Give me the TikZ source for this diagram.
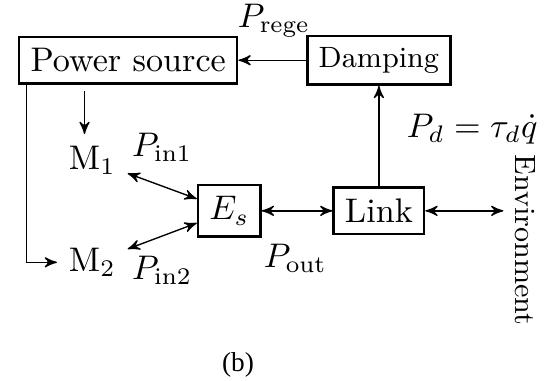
\documentclass[tikz,border=0pt]{standalone}
\usepackage{fontspec}
\newfontfamily\capfont{Liberation Serif}
\usetikzlibrary{arrows,calc}
\tikzstyle{block} = [draw,rectangle,line width=0.7pt]
\tikzstyle{arrow} = [->,>=stealth',thin]
\tikzstyle{darrow} = [<->,>=stealth',thin]
\newcommand{\smallfs}{\fontsize{8.6}{10}\selectfont}

\begin{document}
\begin{tikzpicture}
	\useasboundingbox (0,0) rectangle (5.61,-3.92);
	% blocks
	\node[block] (pwr) at (1.32,-0.62) {Power source};
	\node[block] (dmp) at (3.90,-0.62) {\smallfs Damping};
	\node[block] (es) at (2.36,-2.17) {$E_s$};
	\node[block] (link) at (3.90,-2.17) {Link};
	\node (m1) at (0.95,-1.65) {$\mathrm{M}_1$};
	\node (m2) at (0.95,-2.70) {$\mathrm{M}_2$};
	\node[rotate=-90] (env) at (5.41,-2.47) {\smallfs Environment};
	
	% labels
	\node (prege) at (2.82,-0.21) {$P_{\rm rege}$};
	\node (pin1) at (1.67,-1.52) {$P_{\rm in1}$};
	\node (pin2) at (1.67,-2.78) {$P_{\rm in2}$};
	\node (pout) at (3.04,-2.66) {$P_{\rm out}$};
	\node (pd) at (4.86,-1.33) {$P_d=\tau_d\dot{q}$};
	
	% connections
	\coordinate (s1) at (0.87,-0.94);
	\draw[arrow] (dmp) -- (pwr);
	\draw[arrow] (link) -- (dmp);
	\draw[arrow] (s1) -- (s1 |- m1.north);
	\draw[arrow] ([xshift=0.09cm]pwr.south west) |- (m2);
	\draw[darrow] (m1) -- (es);
	\draw[darrow] (m2) -- (es);
	\draw[darrow] (es) -- (link);
	\draw[darrow] (link) -- (link -| env.south);
	
	\node (cap) at (2.45,-3.76) {\capfont\fontsize{8}{9}\selectfont (b)};
\end{tikzpicture}
\end{document}
